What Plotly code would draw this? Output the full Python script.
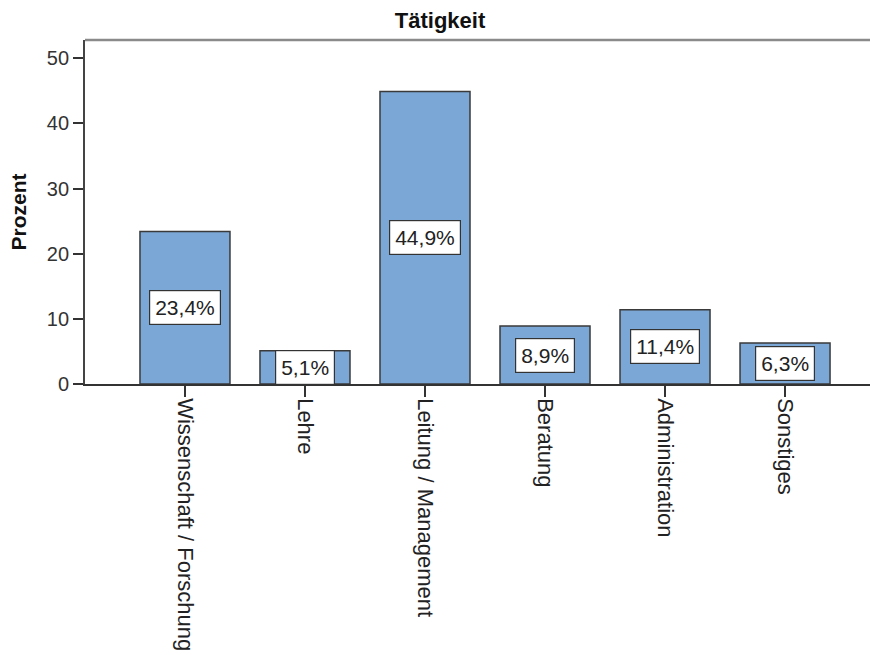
import plotly.graph_objects as go

categories = ["Wissenschaft / Forschung", "Lehre", "Leitung / Management",
              "Beratung", "Administration", "Sonstiges"]
values = [23.4, 5.1, 44.9, 8.9, 11.4, 6.3]
value_labels = ["23,4%", "5,1%", "44,9%", "8,9%", "11,4%", "6,3%"]
y_ticks = [0, 10, 20, 30, 40, 50]

FONT = "Liberation Sans, Arial, sans-serif"

fig = go.Figure()
fig.add_trace(go.Bar(
    x=categories, y=values, width=0.75,
    marker=dict(color="#7aa7d6", line=dict(color="#3a3a3a", width=1.5)),
    hoverinfo="skip",
))

for c, v, lab in zip(categories, values, value_labels):
    fig.add_annotation(
        x=c, y=v / 2, xref="x", yref="y", text=lab, showarrow=False,
        font=dict(family=FONT, size=21, color="#222222"),
        bgcolor="white", bordercolor="#333333", borderwidth=1.2, borderpad=5,
    )

# top border line of plot frame
fig.add_shape(type="line", xref="paper", yref="paper", x0=0, x1=1, y0=1, y1=1,
              line=dict(color="#8a8a8a", width=2.5))

fig.update_layout(
    width=870, height=655,
    margin=dict(l=85, r=0, t=40, b=271),
    paper_bgcolor="white", plot_bgcolor="white",
    showlegend=False,
    font=dict(family=FONT, color="#333333"),
    title=dict(text="<b>Tätigkeit</b>", x=440 / 870, xanchor="center",
               y=1 - 20 / 655, yanchor="middle", yref="container",
               font=dict(family=FONT, size=22, color="#111111")),
    xaxis=dict(
        range=[-0.833, 5.708], tickangle=90, ticks="outside", ticklen=11,
        tickcolor="#333333", tickwidth=1.5, showline=True, linecolor="#333333",
        linewidth=1.5, showgrid=False, zeroline=False, ticklabelstandoff=-3,
        tickfont=dict(family=FONT, size=22, color="#222222"),
    ),
    yaxis=dict(
        range=[0, 52.8], tickvals=y_ticks, ticks="outside", ticklen=10,
        tickcolor="#333333", tickwidth=1.5, showline=True, linecolor="#444444",
        linewidth=1.8, showgrid=False, zeroline=False,
        tickfont=dict(family=FONT, size=20, color="#333333"),
        title=dict(text="<b>Prozent</b>", standoff=14,
                   font=dict(family=FONT, size=21, color="#111111")),
    ),
)

fig.write_html("out.html")
